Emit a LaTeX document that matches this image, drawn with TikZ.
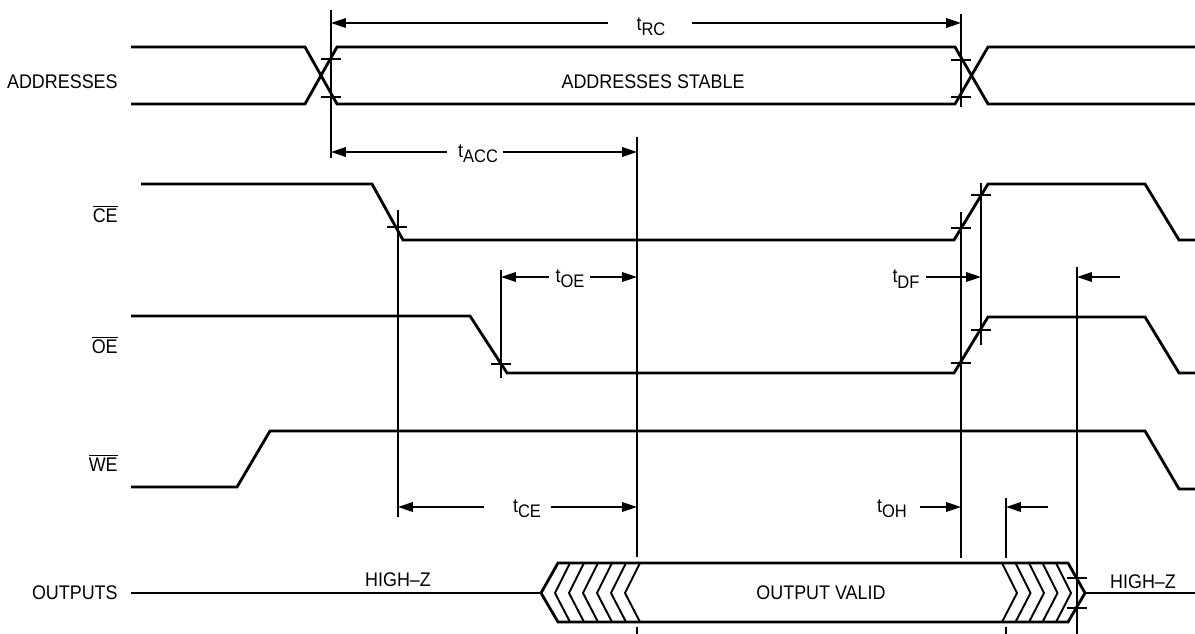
\documentclass[tikz,border=0pt]{standalone}
\usepackage{fontspec}
\setmainfont{Liberation Sans}
\usetikzlibrary{arrows.meta}
\newcommand{\tsb}[1]{\scalebox{1}[1.1]{t\raisebox{-2.8pt}{\fontsize{9.4}{10}\selectfont #1}}}
\newcommand{\ovl}[1]{$\overline{\mbox{\scalebox{1}[1.1]{#1}}}$}
\newcommand{\tl}[1]{\scalebox{1}[1.1]{#1}}
\begin{document}
\begin{tikzpicture}[x=0.02cm,y=-0.02cm,
  sig/.style={line width=1.6pt,line join=miter},
  chev/.style={line width=1.1pt},
  refl/.style={line width=0.75pt},
  dimarrow/.style={line width=0.75pt,-{Triangle[length=8.5pt,width=5.5pt]}},
  lbl/.style={inner sep=0pt,anchor=east,font=\fontsize{10.2}{12}\selectfont},
  txt/.style={inner sep=0pt,font=\fontsize{10.2}{12}\selectfont},
]
\useasboundingbox (0,0) rectangle (1195,634);

% signal names
\node[lbl] (nAddr) at (118,82) {\tl{ADDRESSES}};
\node[lbl] (nCE) at (118,214) {\ovl{CE}};
\node[lbl] (nOE) at (118,345) {\ovl{OE}};
\node[lbl] (nWE) at (118,463) {\ovl{WE}};
\node[lbl] (nOut) at (118,593) {\tl{OUTPUTS}};

% waveforms
\draw[sig] (131,47)--(305,47)--(337,104)--(955,104)--(988,47)--(1195,47);
\draw[sig] (131,104)--(305,104)--(337,47)--(955,47)--(988,104)--(1195,104);
\draw[sig] (141,184)--(372,184)--(403,240)--(954,240)--(988,184)--(1145,184)--(1179,240)--(1195,240);
\draw[sig] (131,316)--(470,316)--(507,373)--(954,373)--(988,317)--(1145,317)--(1179,373)--(1195,373);
\draw[sig] (131,487)--(237,487)--(270,431)--(1145,431)--(1179,489)--(1195,489);
\draw[sig] (131,593)--(541,593);
\draw[sig] (541,593)--(558,563)--(1068,563)--(1085,593)--(1068,622)--(558,622)--cycle;
\draw[sig] (1085,593)--(1195,593);
\foreach \i in {0,...,5} {\draw[chev] ({570+14*\i},563)--({555+14*\i},593)--({570+14*\i},622);}
\foreach \i in {0,...,4} {\draw[chev] ({1002+13.5*\i},563)--({1017+13.5*\i},593)--({1002+13.5*\i},622);}

% texts inside
\node[txt] (nStable) at (653,82) {\tl{ADDRESSES STABLE}};
\node[txt] (nValid) at (821,593) {\tl{OUTPUT VALID}};
\node[txt] (nHZ1) at (398,580) {\tl{HIGH--Z}};
\node[txt] (nHZ2) at (1143,582) {\tl{HIGH--Z}};

% reference lines
\draw[refl] (331,10)--(331,158);
\draw[refl] (961,14)--(961,107);
\draw[refl] (637,137)--(637,557);
\draw[refl] (637,627)--(637,634);
\draw[refl] (398,210)--(398,517);
\draw[refl] (961,212)--(961,558);
\draw[refl] (981,183)--(981,345);
\draw[refl] (501,270)--(501,378);
\draw[refl] (1077,267)--(1077,634);
\draw[refl] (1006,498)--(1006,558);
\draw[refl] (1006,627)--(1006,634);

% ticks
\foreach \x/\y in {331/59,331/97,961/60,961/97,397/227,961/228,981/195,501/364,961/363,981/330,1077/578,1077/608}
  {\draw[refl] ({\x-10},\y)--({\x+10},\y);}

% timing labels
\node[txt] (tRC) at (651,27) {\tsb{RC}};
\node[txt] (tACC) at (478,154) {\tsb{ACC}};
\node[txt] (tOE) at (570,279) {\tsb{OE}};
\node[txt] (tDF) at (906,279) {\tsb{DF}};
\node[txt] (tCE) at (527,509) {\tsb{CE}};
\node[txt] (tOH) at (892,509) {\tsb{OH}};

% dimension arrows
\coordinate (rcA) at (608,23); \coordinate (rcL) at (331,23);
\coordinate (rcB) at (692,23); \coordinate (rcR) at (961,23);
\draw[dimarrow] (rcA)--(rcL); \draw[dimarrow] (rcB)--(rcR);
\coordinate (acA) at (447,152); \coordinate (acL) at (331,152);
\coordinate (acB) at (503,152); \coordinate (acR) at (637,152);
\draw[dimarrow] (acA)--(acL); \draw[dimarrow] (acB)--(acR);
\coordinate (oeA) at (549,277); \coordinate (oeL) at (501,277);
\coordinate (oeB) at (590,277); \coordinate (oeR) at (637,277);
\draw[dimarrow] (oeA)--(oeL); \draw[dimarrow] (oeB)--(oeR);
\coordinate (dfA) at (926,277); \coordinate (dfR) at (981,277);
\draw[dimarrow] (dfA)--(dfR);
\coordinate (hzA) at (1120,277); \coordinate (hzL) at (1077,277);
\draw[dimarrow] (hzA)--(hzL);
\coordinate (ceA) at (484,507); \coordinate (ceL) at (398,507);
\coordinate (ceB) at (551,507); \coordinate (ceR) at (637,507);
\draw[dimarrow] (ceA)--(ceL); \draw[dimarrow] (ceB)--(ceR);
\coordinate (ohA) at (920,507); \coordinate (ohR) at (961,507);
\draw[dimarrow] (ohA)--(ohR);
\coordinate (ohB) at (1048,507); \coordinate (ohL) at (1006,507);
\draw[dimarrow] (ohB)--(ohL);
\end{tikzpicture}
\end{document}
